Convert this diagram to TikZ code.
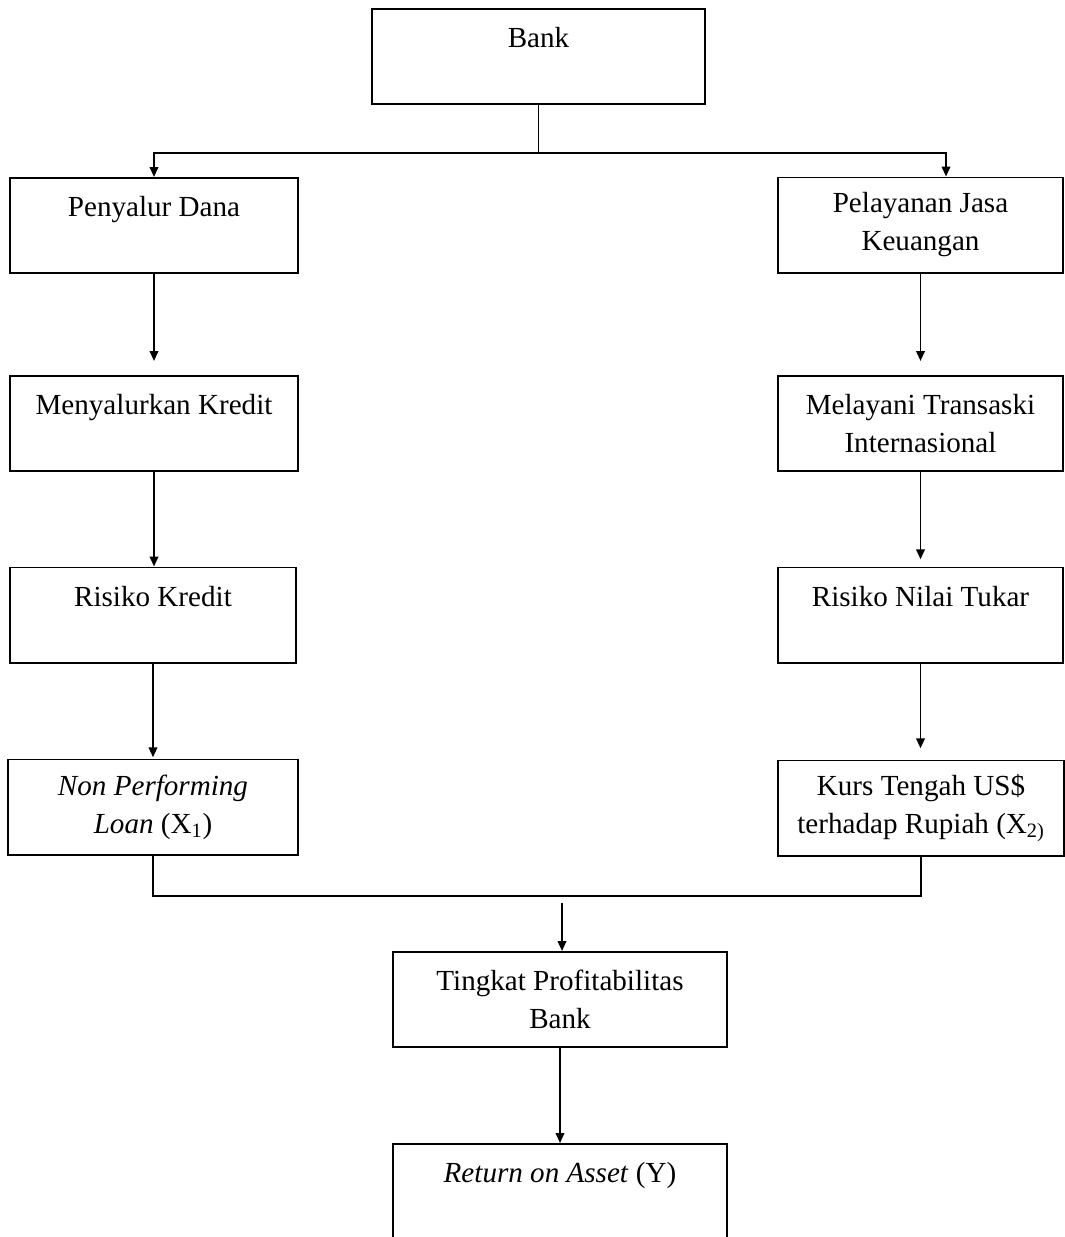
\documentclass[tikz,border=0pt]{standalone}
\usepackage{fontspec}
\setmainfont{Liberation Serif}
\usetikzlibrary{calc}
\usetikzlibrary{arrows.meta,positioning}

\begin{document}
\begin{tikzpicture}[
  x=0.025cm,y=-0.025cm,
  line/.style={line width=1.4pt},
  arr/.style={line width=1.4pt,-{Triangle[length=7pt,width=6pt]}},
  box/.style={draw,line width=1.4pt,rectangle,align=center,inner sep=0pt,
    minimum height=2.375cm,font=\fontsize{20.7}{27}\selectfont}
]
  \useasboundingbox (0,0) rectangle (1065,1237);
  \clip (0,0) rectangle (1065,1237);

  % Top box
  \node[box,minimum width=8.325cm] (bank) at (538.5,56.5) {Bank\\\mbox{}};

  % Left branch
  \node[box,minimum width=7.2cm] (dana) at (154,225.5) {Penyalur Dana\\\mbox{}};
  \node[box,minimum width=7.2cm] (kredit) at (154,423.5) {Menyalurkan Kredit\\\mbox{}};
  \node[box,minimum width=7.15cm] (risk1) at (153,615) {Risiko Kredit\\\mbox{}};
  \node[box,minimum width=7.25cm] (npl) at (153,807)
    {\textit{Non Performing}\\\textit{Loan} (X\textsubscript{1})};

  % Right branch
  \node[box,minimum width=7.125cm] (jasa) at (920.5,225) {Pelayanan Jasa\\Keuangan};
  \node[box,minimum width=7.125cm] (trans) at (920.5,423.5)
    {Melayani Transaski\\Internasional};
  \node[box,minimum width=7.125cm] (risk2) at (920.5,615) {Risiko Nilai Tukar\\\mbox{}};
  \node[box,minimum width=7.15cm] (kurs) at (921,808)
    {Kurs Tengah US\$\\terhadap Rupiah (X\textsubscript{2)}};

  % Outcome
  \node[box,minimum width=8.35cm] (profit) at (560,999.5)
    {Tingkat Profitabilitas\\Bank};
  \node[box,minimum width=8.35cm] (roa) at (560,1191.5)
    {\textit{Return on Asset} (Y)\\\mbox{}};

  % Split from bank
  \coordinate (split) at (538.5,153);
  \draw[line] (bank) -- (split);
  \draw[arr] (split) -| (dana.north);
  \draw[arr] (split) -| ($(jasa.north)+(25.5,0)$);

  % Chains down each side
  \foreach \a/\b/\g in {dana/kredit/0.35,kredit/risk1/0,risk1/npl/0.03,
                        jasa/trans/0.35,trans/risk2/0.18,risk2/kurs/0.28}{
    \draw[arr,shorten >=\g cm] (\a.south) -- (\a.south |- \b.north);
  }

  % Merge into profitability
  \coordinate (join) at (562,896);
  \draw[line] (npl) |- (join) -| (kurs);
  \draw[arr,shorten <=0.18cm] (join) -- (join |- profit.north);
  \draw[arr] (profit) -- (roa);
\end{tikzpicture}
\end{document}
